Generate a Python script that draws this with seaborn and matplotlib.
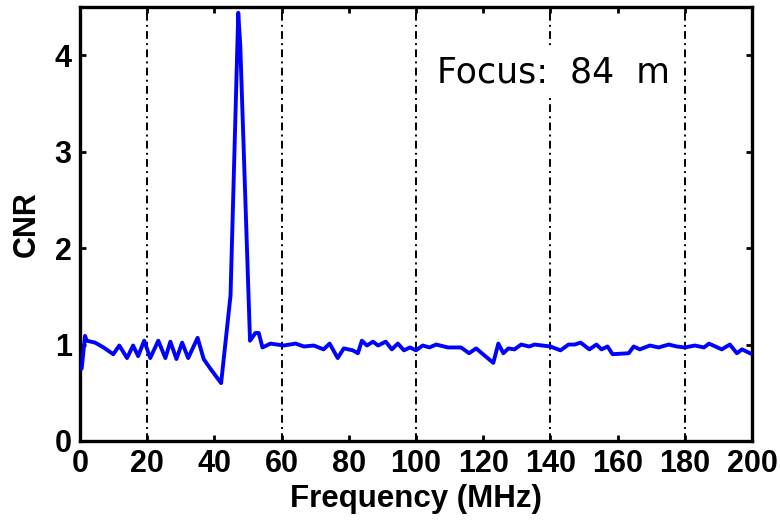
import matplotlib
matplotlib.use("Agg")
import matplotlib.pyplot as plt
import seaborn as sns
import pandas as pd

freq = [0.5, 1.5, 2.0, 4.5, 7.0, 9.9, 11.7, 14.0, 15.8, 17.3, 19.1, 20.9, 23.3, 25.4,
        26.9, 28.7, 30.4, 32.2, 35.0, 36.8, 38.8, 42.0, 44.8, 47.1, 47.7, 50.6, 52.2,
        53.2, 54.3, 56.7, 60.6, 64.2, 66.6, 69.6, 72.5, 74.3, 76.7, 78.5, 81.2, 82.7,
        83.9, 85.4, 87.2, 88.7, 91.0, 92.8, 94.6, 96.4, 98.2, 100.0, 102.0, 104.0, 106.0,
        109.5, 113.4, 115.8, 117.9, 123.0, 124.5, 126.0, 127.5, 129.3, 131.3, 133.7,
        135.3, 140.0, 143.0, 145.4, 147.2, 149.0, 151.6, 153.7, 155.2, 157.0, 158.5,
        163.3, 164.8, 166.6, 169.6, 172.2, 175.2, 177.6, 180.0, 183.0, 185.7, 187.2,
        191.0, 193.4, 195.5, 197.0, 200.0]
cnr = [0.75, 1.09, 1.04, 1.02, 0.97, 0.90, 0.99, 0.86, 0.99, 0.88, 1.04, 0.86, 1.04, 0.86,
       1.03, 0.85, 1.02, 0.86, 1.07, 0.85, 0.75, 0.60, 1.51, 4.44, 4.10, 1.04, 1.12,
       1.12, 0.97, 1.01, 0.99, 1.01, 0.98, 0.99, 0.95, 1.01, 0.86, 0.96, 0.94, 0.91,
       1.04, 0.99, 1.03, 0.99, 1.03, 0.95, 1.01, 0.94, 0.97, 0.94, 0.99, 0.97, 1.00,
       0.97, 0.97, 0.91, 0.96, 0.81, 1.01, 0.91, 0.96, 0.95, 1.00, 0.98,
       1.00, 0.98, 0.94, 1.00, 1.00, 1.02, 0.95, 1.00, 0.95, 0.98, 0.90,
       0.91, 0.98, 0.95, 0.99, 0.97, 1.00, 0.98, 0.97, 0.99, 0.97, 1.01,
       0.95, 1.00, 0.91, 0.95, 0.90]

x_ticks = [0, 20, 40, 60, 80, 100, 120, 140, 160, 180, 200]
y_ticks = [0, 1, 2, 3, 4]
grid_x = [20, 60, 100, 140, 180]
annotation = "Focus:  84  m"

sns.set_style("ticks")
plt.rcParams['font.family'] = ['Liberation Sans', 'DejaVu Sans']

df = pd.DataFrame({"Frequency": freq, "CNR": cnr})

fig = plt.figure(figsize=(7.8, 5.2), dpi=100)
ax = fig.add_axes([80/780, 1 - 441/520, (752-80)/780, (441-7)/520])

for gx in grid_x:
    ax.axvline(gx, color="black", lw=1.4, linestyle=(0, (4, 2.2, 1, 2.2)), zorder=1)

sns.lineplot(data=df, x="Frequency", y="CNR", ax=ax, color="#0000ff", lw=2.8,
             sort=False, estimator=None, zorder=3)

ax.set_xlim(0, 200)
ax.set_ylim(0, 4.5)
ax.set_xticks(x_ticks)
ax.set_yticks(y_ticks)
ax.set_xticklabels([str(t) for t in x_ticks], fontsize=22, fontweight="bold")
ax.set_yticklabels([str(t) for t in y_ticks], fontsize=22, fontweight="bold")
ax.tick_params(direction="in", length=4, width=2, top=True, right=True, pad=6,
               colors="black")
ax.set_xlabel("Frequency (MHz)", fontsize=22.5, fontweight="bold", labelpad=3,
              color="black")
ax.set_ylabel("CNR", fontsize=22, fontweight="bold", labelpad=9, color="black")

for s in ax.spines.values():
    s.set_visible(True)
    s.set_linewidth(2.4)
    s.set_color("black")

ax.text(0.531, 0.825, annotation, transform=ax.transAxes, fontsize=25,
        family="DejaVu Sans", ha="left", va="baseline", color="black", zorder=4,
        bbox=dict(facecolor="white", edgecolor="none", pad=6))

fig.savefig("out.png", dpi=100)
